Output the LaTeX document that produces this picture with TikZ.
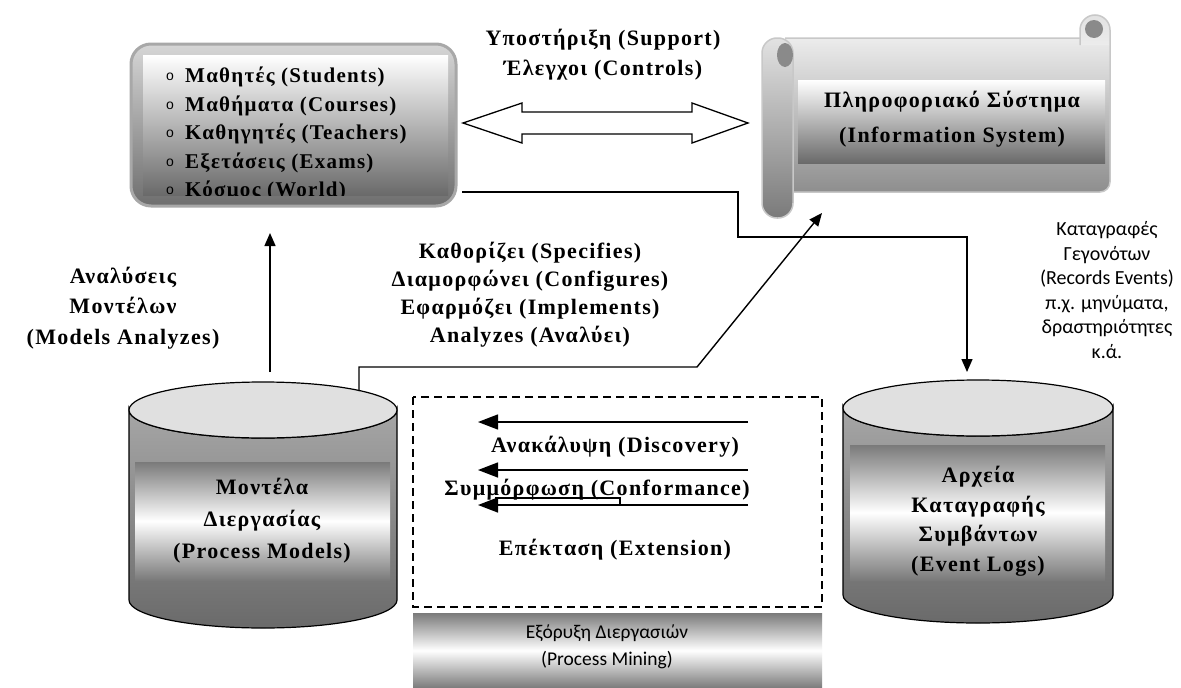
\documentclass[tikz,border=0pt]{standalone}
\usepackage{fontspec}
\setmainfont{Liberation Serif}
\newfontfamily\wideserif[LetterSpace=6]{Liberation Serif}
\newfontfamily\notefont{Carlito}
\newfontfamily\bulletfont{Liberation Sans}
\usetikzlibrary{arrows.meta}
\definecolor{rimgray}{HTML}{A8A8A8}
\definecolor{boxtop}{HTML}{D6D6D6}
\definecolor{boxbot}{HTML}{6E6E6E}
\definecolor{panelbot}{HTML}{6A6A6A}
\definecolor{capgray}{HTML}{E0E0E0}
\definecolor{bodytop}{HTML}{A6A6A6}
\definecolor{bodybot}{HTML}{6A6A6A}
\definecolor{bandedge}{HTML}{7A7A7A}
\definecolor{sheettop}{HTML}{ECECEC}
\definecolor{sheetbot}{HTML}{8E8E8E}
\definecolor{rolltop}{HTML}{E2E2E2}
\definecolor{rollbot}{HTML}{7A7A7A}
\definecolor{rollhole}{HTML}{8A8A8A}
\definecolor{scrollrim}{HTML}{C8C8C8}
\begin{document}
\begin{tikzpicture}[x=1pt, y=-1pt,
  boldlabel/.style={font=\wideserif\bfseries\fontsize{22}{28}\selectfont, align=center, inner sep=0pt},
  notelabel/.style={font=\notefont\fontsize{20}{24.5}\selectfont, align=center, inner sep=0pt},
  band/.style={top color=bandedge, bottom color=bandedge, middle color=white},
  flow/.style={line width=1.4pt, -{Triangle[length=13pt,width=11pt]}},
  wire/.style={line width=1.4pt},
  cylline/.style={draw=black, line width=1.2pt},
]
\useasboundingbox (0,0) rectangle (1181,688);
\fill[white] (0,0) rectangle (1181,688);

% ---------- entities box ----------
\path[draw=rimgray, line width=3pt, rounded corners=20pt, top color=boxtop, bottom color=boxbot]
  (131,44) rectangle (456,206);
\shade[top color=white, bottom color=panelbot] (143,55) rectangle (448,195);
\begin{scope}
  \clip (143,55) rectangle (448,195);
  \foreach \txt [count=\i] in {{Μαθητές (Students)},{Μαθήματα (Courses)},{Καθηγητές (Teachers)},{Εξετάσεις (Exams)},{Κόσμος (World)}}{
    \node[font=\bulletfont\fontsize{14}{14}\selectfont, inner sep=0pt] (bullet\i) at (170,48.5+28.5*\i) {o};
    \node[boldlabel, font=\wideserif\bfseries\fontsize{21}{28}\selectfont, anchor=west] (item\i) at (185,48.5+28.5*\i) {\txt};
  }
\end{scope}

% ---------- information system scroll ----------
\shade[top color=sheettop, bottom color=sheetbot] (785,38) -- (1110,38) -- (1110,182)
  arc[start angle=0, end angle=90, radius=10] -- (785,192) -- cycle;
\draw[scrollrim, line width=1.5pt] (785,38) -- (1110,38) -- (1110,182)
  arc[start angle=0, end angle=90, radius=10] -- (785,192);
% right top curl
\path[draw=scrollrim, line width=1.5pt, top color=rolltop, bottom color=sheettop]
  (1080,45) -- (1080,30) arc[start angle=180, end angle=360, radius=15] -- (1110,45);
\fill[rollhole] (1094,29) circle[radius=9];
% left roll
\path[draw=scrollrim, line width=1.5pt, rounded corners=15pt, top color=rolltop, bottom color=rollbot]
  (762,38) rectangle (793,218);
\fill[rollhole] (785,55) ellipse[x radius=8, y radius=12];
% text panel
\shade[top color=white, bottom color=panelbot] (798,80) rectangle (1105,163);
\node[boldlabel, font=\wideserif\bfseries\fontsize{22}{35}\selectfont] (infosys) at (952,119)
  {Πληροφοριακό Σύστημα\\(Information System)};

% ---------- support / controls double arrow ----------
\coordinate (dbleft) at (463,123);
\coordinate (dbright) at (748,123);
\draw[line width=1.3pt, fill=white] (dbleft) -- (522,103) -- (522,112) -- (692,112) -- (692,103)
  -- (dbright) -- (692,143) -- (692,134) -- (522,134) -- (522,143) -- cycle;
\node[boldlabel, font=\wideserif\bfseries\fontsize{22}{30}\selectfont] (supportlbl) at (603,55)
  {Υποστήριξη (Support)\\Έλεγχοι (Controls)};

% ---------- process models cylinder ----------
\path[cylline, top color=bodytop, bottom color=bodybot]
  (129,410) -- (129,600) arc[start angle=180, end angle=0, x radius=134, y radius=28]
  -- (397,410) arc[start angle=0, end angle=180, x radius=134, y radius=28] -- cycle;
\path[cylline, fill=capgray] (263,410) ellipse[x radius=134, y radius=28];
\shade[band] (135,462) rectangle (390,580);
\node[boldlabel, font=\wideserif\bfseries\fontsize{22}{32}\selectfont] (models) at (262,521)
  {Μοντέλα\\Διεργασίας\\(Process Models)};

% ---------- event logs cylinder ----------
\path[cylline, top color=bodytop, bottom color=bodybot]
  (843,408) -- (843,595) arc[start angle=180, end angle=0, x radius=135, y radius=28]
  -- (1113,408) arc[start angle=0, end angle=180, x radius=135, y radius=28] -- cycle;
\path[cylline, fill=capgray] (978,408) ellipse[x radius=135, y radius=28];
\shade[band] (850,445) rectangle (1105,580);
\node[boldlabel, font=\wideserif\bfseries\fontsize{22}{29.5}\selectfont] (logs) at (978,521)
  {Αρχεία\\Καταγραφής\\Συμβάντων\\(Event Logs)};

% ---------- process mining area ----------
\draw[dashed, dash pattern=on 8pt off 5pt, line width=1.2pt] (413,397) rectangle (822,607);
\shade[band] (413,613) rectangle (822,688);
\node[notelabel, font=\notefont\fontsize{19.5}{27}\selectfont] (mining) at (607,647)
  {Εξόρυξη Διεργασιών\\(Process Mining)};

\coordinate (d1s) at (748,422); \coordinate (d1e) at (478,422);
\coordinate (d2s) at (748,470); \coordinate (d2e) at (478,470);
\coordinate (d3s) at (748,505); \coordinate (d3e) at (478,505);
\draw[flow, -{Triangle[length=20pt,width=15pt]}] (d1s) -- (d1e);
\draw[flow, -{Triangle[length=20pt,width=15pt]}] (d2s) -- (d2e);
\draw[flow, -{Triangle[length=20pt,width=15pt]}] (d3s) -- (d3e);
\coordinate (brk) at (620,505);
\draw[wire, line width=1.2pt] (495,498) -| (brk);
\node[boldlabel] (discovery) at (615,447) {Ανακάλυψη (Discovery)};
\node[boldlabel] (conformance) at (597,490) {Συμμόρφωση (Conformance)};
\node[boldlabel] (extension) at (615,550) {Επέκταση (Extension)};

% ---------- connectors ----------
\coordinate (pmup) at (270,372);
\coordinate (entlow) at (270,233);
\draw[flow] (pmup) -- (entlow);
\node[boldlabel, font=\wideserif\bfseries\fontsize{22}{30.5}\selectfont] (analyses) at (123,308)
  {Αναλύσεις\\Μοντέλων\\(Models Analyzes)};

\coordinate (entout) at (462,192);
\coordinate (logsin) at (967,372);
\draw[flow] (entout) -- (738,192) -- (738,237) -- (967,237) -- (logsin);
\node[notelabel] (records) at (1107,290)
  {Καταγραφές\\Γεγονότων\\(Records Events)\\π.χ. μηνύματα,\\δραστηριότητες\\κ.ά.};

\coordinate (pmout) at (359,391);
\coordinate (sysin) at (822,213);
\draw[flow] (pmout) -- (359,367) -- (697,367) -- (sysin);
\node[boldlabel] (specifies) at (530,295)
  {Καθορίζει (Specifies)\\Διαμορφώνει (Configures)\\Εφαρμόζει (Implements)\\Analyzes (Αναλύει)};
\end{tikzpicture}
\end{document}
